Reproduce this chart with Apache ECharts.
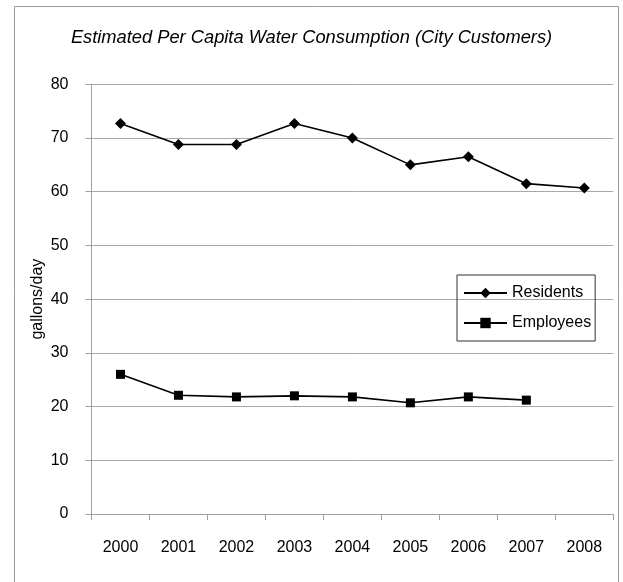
<!DOCTYPE html>
<html>
<head>
<meta charset="utf-8">
<script src="https://cdn.jsdelivr.net/npm/echarts@6/dist/echarts.min.js"></script>
<style>
  html, body { margin: 0; padding: 0; background: #fff; }
  #main { width: 623px; height: 582px; }
</style>
</head>
<body>
<div id="main"></div>
<script>
// data
var years = ['2000', '2001', '2002', '2003', '2004', '2005', '2006', '2007', '2008'];
var residents = [72.7, 68.8, 68.8, 72.7, 70.0, 65.0, 66.5, 61.5, 60.7];
var employees = [26.0, 22.1, 21.8, 22.0, 21.8, 20.7, 21.8, 21.2, null];
var yTicks = { min: 0, max: 80, step: 10 };

var font = "'Liberation Sans', Arial, sans-serif";
var chart = echarts.init(document.getElementById('main'), null, { renderer: 'canvas' });

var option = {
  animation: false,
  backgroundColor: '#fff',
  textStyle: { fontFamily: font },
  title: {
    text: 'Estimated Per Capita Water Consumption (City Customers)',
    left: 'center',
    top: 24,
    textStyle: {
      fontFamily: font,
      fontStyle: 'italic',
      fontWeight: 'normal',
      fontSize: 18.3,
      color: '#000'
    }
  },
  graphic: [{
    type: 'rect',
    shape: { x: 14.5, y: 6.5, width: 604, height: 600 },
    style: { fill: 'none', stroke: '#9a9a9a', lineWidth: 1 },
    silent: true,
    z: -1
  }],
  legend: {
    orient: 'vertical',
    left: 457,
    top: 275,
    padding: [10, 4, 10, 6],
    itemGap: 14,
    itemWidth: 43,
    itemHeight: 13,
    borderColor: '#333',
    borderWidth: 1,
    textStyle: { fontFamily: font, fontSize: 16, color: '#000' },
    data: ['Residents', 'Employees']
  },
  grid: { left: 91.5, right: 9.7, top: 84.3, bottom: 68 },
  xAxis: {
    type: 'category',
    data: years,
    boundaryGap: true,
    axisLine: { lineStyle: { color: '#a0a0a0', width: 1 } },
    axisTick: { show: true, length: 6, lineStyle: { color: '#a0a0a0' } },
    axisLabel: { margin: 26, fontSize: 16, color: '#000', fontFamily: font }
  },
  yAxis: {
    type: 'value',
    min: yTicks.min,
    max: yTicks.max,
    interval: yTicks.step,
    name: 'gallons/day',
    nameLocation: 'middle',
    nameGap: 46,
    nameMoveOverlap: false,
    nameTextStyle: { fontSize: 16, color: '#000', fontFamily: font },
    axisLine: { show: true, lineStyle: { color: '#a0a0a0', width: 1 } },
    axisTick: { show: true, length: 6, lineStyle: { color: '#a0a0a0' } },
    axisLabel: { margin: 23, fontSize: 16, color: '#000', fontFamily: font },
    splitLine: { lineStyle: { color: '#a8a8a8', width: 1 } }
  },
  series: [
    {
      name: 'Residents',
      type: 'line',
      data: residents,
      symbol: 'diamond',
      symbolSize: 11,
      showAllSymbol: true,
      color: '#000',
      lineStyle: { color: '#000', width: 1.6 },
      itemStyle: { color: '#000' }
    },
    {
      name: 'Employees',
      type: 'line',
      data: employees,
      symbol: 'rect',
      symbolSize: 9,
      showAllSymbol: true,
      color: '#000',
      lineStyle: { color: '#000', width: 1.6 },
      itemStyle: { color: '#000' }
    }
  ]
};

chart.setOption(option);
</script>
</body>
</html>
